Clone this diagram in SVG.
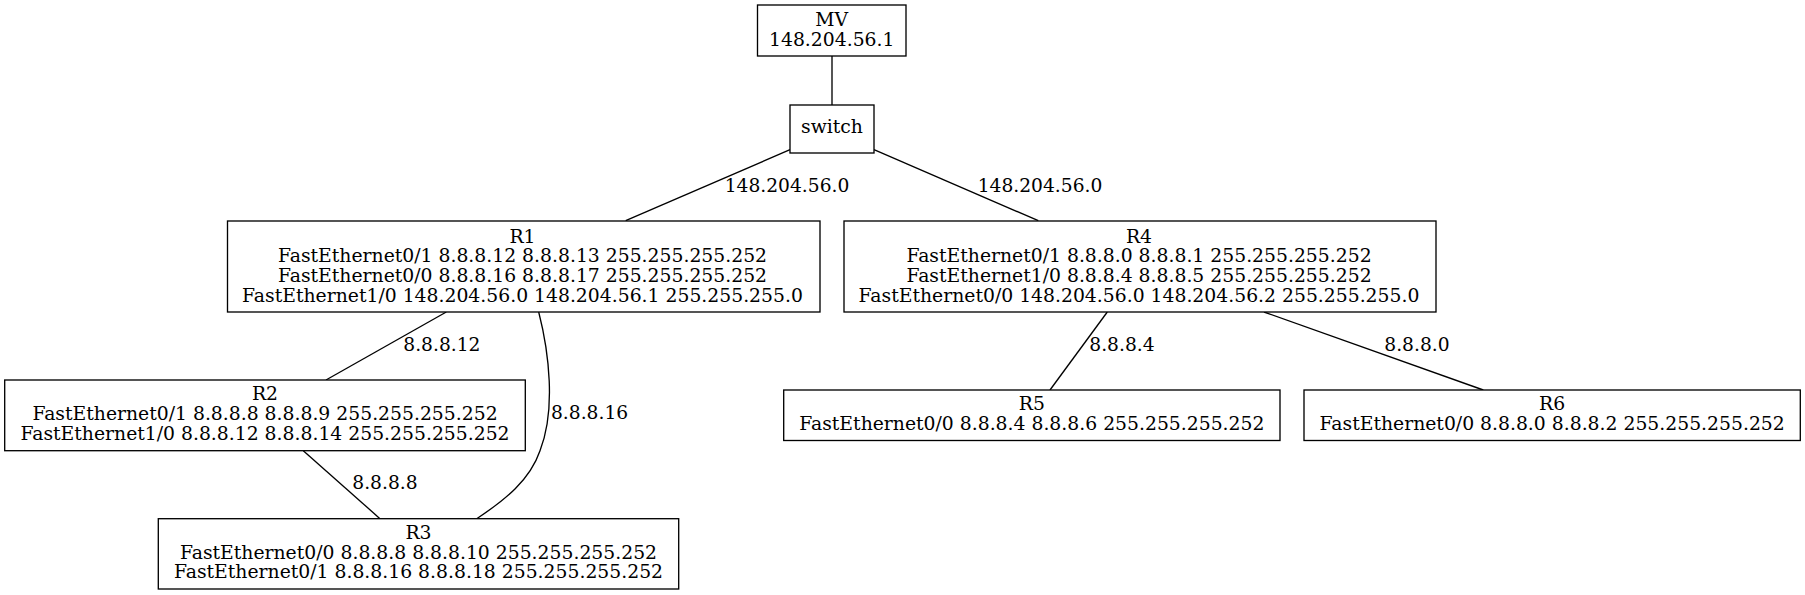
<svg xmlns="http://www.w3.org/2000/svg" width="1805" height="595" viewBox="0 0 1805 595">
<style>
  .box { fill: #ffffff; stroke: #000000; stroke-width: 1.33; }
  .edge { fill: none; stroke: #000000; stroke-width: 1.33; }
  text { font-family: "DejaVu Serif", "Liberation Serif", serif; font-size: 18.67px; fill: #000000; }
  .c { text-anchor: middle; font-size: 18.8px; }
</style>
<rect x="0" y="0" width="1805" height="595" fill="#ffffff"/>
<g id="connectors">
  <g id="e-mv-switch"><path class="edge" d="M832,56 L832,105"/></g>
  <g id="e-switch-r1"><path class="edge" d="M790,149.7 L625.7,220.7"/><text x="724.7" y="192">148.204.56.0</text></g>
  <g id="e-switch-r4"><path class="edge" d="M874,149.7 L1038.3,220.7"/><text x="977.7" y="192">148.204.56.0</text></g>
  <g id="e-r1-r2"><path class="edge" d="M446.3,312 L326,380"/><text x="403.3" y="350.7">8.8.8.12</text></g>
  <g id="e-r1-r3"><path class="edge" d="M538.7,312 C549,352 556,410 540,450.7 C530,480 505,500 476.7,518.7"/><text x="551" y="419.3">8.8.8.16</text></g>
  <g id="e-r2-r3"><path class="edge" d="M303.3,450.7 L380,518.7"/><text x="352.3" y="489.3">8.8.8.8</text></g>
  <g id="e-r4-r5"><path class="edge" d="M1107.3,312 L1050,390"/><text x="1089.3" y="351">8.8.8.4</text></g>
  <g id="e-r4-r6"><path class="edge" d="M1264,312 L1483.3,390"/><text x="1384.3" y="351">8.8.8.0</text></g>
</g>
<g id="MV">
  <rect class="box" x="757.5" y="5" width="148.5" height="51"/>
  <text class="c" x="831.75" y="26.2">MV</text>
  <text class="c" x="831.75" y="46">148.204.56.1</text>
</g>
<g id="switch">
  <rect class="box" x="790" y="105" width="84" height="48"/>
  <text class="c" x="832" y="133.3">switch</text>
</g>
<g id="R1">
  <rect class="box" x="227.5" y="221" width="592.5" height="91"/>
  <text class="c" x="522.5" y="242.5">R1</text>
  <text class="c" x="522.5" y="262.4">FastEthernet0/1 8.8.8.12 8.8.8.13 255.255.255.252</text>
  <text class="c" x="522.5" y="282.2">FastEthernet0/0 8.8.8.16 8.8.8.17 255.255.255.252</text>
  <text class="c" x="522.5" y="302">FastEthernet1/0 148.204.56.0 148.204.56.1 255.255.255.0</text>
</g>
<g id="R4">
  <rect class="box" x="844" y="221" width="592" height="91"/>
  <text class="c" x="1139" y="242.5">R4</text>
  <text class="c" x="1139" y="262.4">FastEthernet0/1 8.8.8.0 8.8.8.1 255.255.255.252</text>
  <text class="c" x="1139" y="282.2">FastEthernet1/0 8.8.8.4 8.8.8.5 255.255.255.252</text>
  <text class="c" x="1139" y="302">FastEthernet0/0 148.204.56.0 148.204.56.2 255.255.255.0</text>
</g>
<g id="R2">
  <rect class="box" x="4.7" y="380" width="520.6" height="70.7"/>
  <text class="c" x="265" y="400.4">R2</text>
  <text class="c" x="265" y="419.9">FastEthernet0/1 8.8.8.8 8.8.8.9 255.255.255.252</text>
  <text class="c" x="265" y="439.5">FastEthernet1/0 8.8.8.12 8.8.8.14 255.255.255.252</text>
</g>
<g id="R3">
  <rect class="box" x="158.3" y="518.7" width="520.4" height="70.3"/>
  <text class="c" x="418.5" y="539">R3</text>
  <text class="c" x="418.5" y="558.7">FastEthernet0/0 8.8.8.8 8.8.8.10 255.255.255.252</text>
  <text class="c" x="418.5" y="578.4">FastEthernet0/1 8.8.8.16 8.8.8.18 255.255.255.252</text>
</g>
<g id="R5">
  <rect class="box" x="783.7" y="390" width="496.3" height="50.5"/>
  <text class="c" x="1031.85" y="410">R5</text>
  <text class="c" x="1031.85" y="430">FastEthernet0/0 8.8.8.4 8.8.8.6 255.255.255.252</text>
</g>
<g id="R6">
  <rect class="box" x="1304" y="390" width="496.3" height="50.5"/>
  <text class="c" x="1552.15" y="410">R6</text>
  <text class="c" x="1552.15" y="430">FastEthernet0/0 8.8.8.0 8.8.8.2 255.255.255.252</text>
</g>
</svg>
